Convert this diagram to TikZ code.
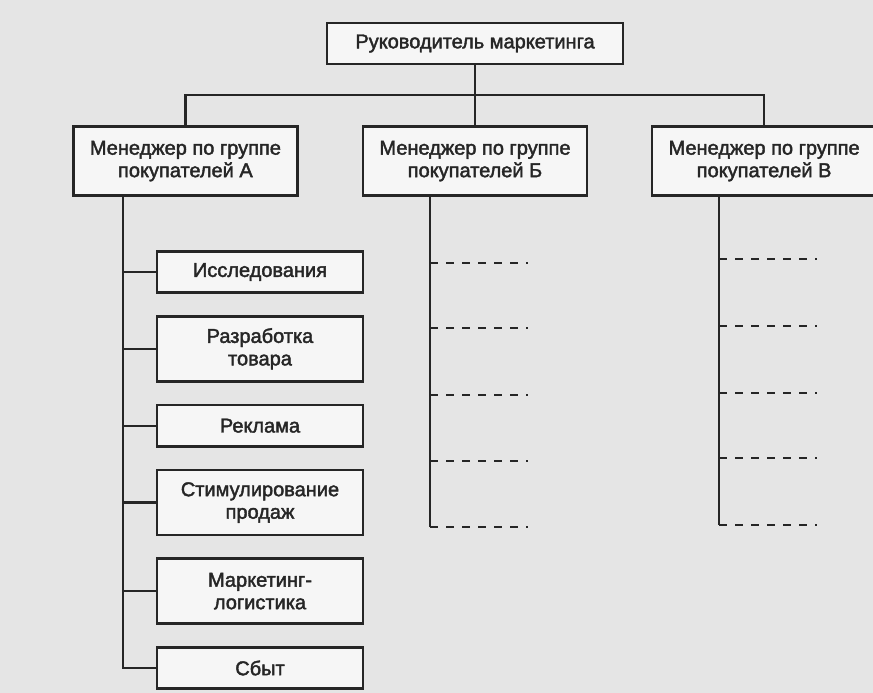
\documentclass[tikz,border=0pt]{standalone}
\usepackage{fontspec}
\setmainfont{Liberation Sans}
\newfontfamily\scanfont{Liberation Sans}[FakeBold=2]
\definecolor{scanBg}{RGB}{229,229,229}
\definecolor{boxBg}{RGB}{246,246,246}
\definecolor{inkGray}{RGB}{38,38,38}
\usetikzlibrary{positioning}

\tikzset{
  unit/.style={draw=inkGray, line width=2.6pt, fill=boxBg, text=inkGray,
    align=center, inner sep=2pt, font=\scanfont\fontsize{20}{22.5}\selectfont},
  mgr/.style={unit, minimum width=224pt, minimum height=69pt},
  sub/.style={unit, minimum width=206pt, minimum height=41.5pt},
  tall/.style={minimum height=65pt},
  link/.style={draw=inkGray, line width=2.2pt},
  stub/.style={draw=inkGray, line width=2.6pt, dash pattern=on 8pt off 8pt}
}

\begin{document}
\begin{tikzpicture}[x=1pt,y=1pt]
    % Page
    \useasboundingbox (0,0) rectangle (873,-693);
    \clip (0,0) rectangle (873,-693);
    \fill[scanBg] (0,0) rectangle (873,-693);
    % Head
    \node[unit, minimum width=296pt, minimum height=41pt] (lead) at (475,-43.5)
      {Руководитель маркетинга};
    % Managers
    \node[mgr, below=60pt of lead] (mgrB) {Менеджер по группе\\покупателей Б};
    \node[mgr, left=63pt of mgrB] (mgrA) {Менеджер по группе\\покупателей А};
    \node[mgr, right=62.5pt of mgrB] (mgrV) {Менеджер по группе\\покупателей В};
    % Functions of group A
    \node[sub] (research) at (260,-272) {Исследования};
    \node[sub, tall, below=21pt of research] (develop) {Разработка\\товара};
    \node[sub, below=21pt of develop] (advert) {Реклама};
    \node[sub, tall, below=21pt of advert] (promo) {Стимулирование\\продаж};
    \node[sub, tall, below=21pt of promo] (logist) {Маркетинг-\\логистика};
    \node[sub, below=21pt of logist] (sales) {Сбыт};
    % Tree
    \coordinate (bar) at (475,-95);
    \draw[link] (lead.south) -- (mgrB.north);
    \draw[link] (mgrA.north) -- (mgrA.north |- bar) -- (mgrV.north |- bar) -- (mgrV.north);
    % Spine of group A
    \coordinate (spineA) at (123,0);
    \draw[link] (mgrA.south -| spineA) -- (sales.west -| spineA) -- (sales.west);
    \foreach \n in {research,develop,advert,promo,logist}
      \draw[link] (\n.west -| spineA) -- (\n.west);
    % Groups B and V (dashed)
    \foreach \y [count=\i] in {263,328,395,461,527} {
      \coordinate (B\i) at (430,-\y);
      \coordinate (Be\i) at (528,-\y);
      \draw[stub] (B\i) -- (Be\i);
    }
    \draw[link] (mgrB.south -| B1) -- (B5);
    \foreach \y [count=\i] in {259,326,393,458,525} {
      \coordinate (V\i) at (719,-\y);
      \coordinate (Ve\i) at (817,-\y);
      \draw[stub] (V\i) -- (Ve\i);
    }
    \draw[link] (mgrV.south -| V1) -- (V5);
\end{tikzpicture}
\end{document}
